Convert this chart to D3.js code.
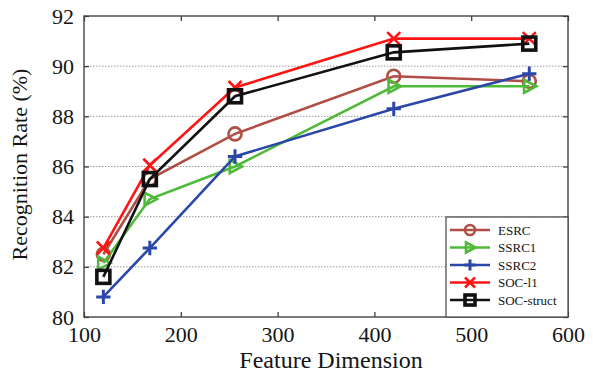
<!DOCTYPE html>
<html><head><meta charset="utf-8">
<script src="https://cdn.jsdelivr.net/npm/d3@7"></script>
<style>
html,body{margin:0;padding:0;background:#fff;}
svg{display:block;}
svg text{font-family:"Liberation Serif","Times New Roman",Times,"DejaVu Serif",serif !important;fill:#141414;}
</style></head>
<body>
<script>
const dims = [120, 168, 256, 420, 560];
const seriesNames = ["ESRC", "SSRC1", "SSRC2", "SOC-l1", "SOC-struct"];
const esrc = [82.5, 85.5, 87.3, 89.6, 89.4];
const ssrc1 = [82.15, 84.7, 86.0, 89.2, 89.2];
const ssrc2 = [80.8, 82.75, 86.4, 88.3, 89.7];
const socL1 = [82.75, 86.05, 89.15, 91.1, 91.1];
const socStruct = [81.6, 85.5, 88.8, 90.55, 90.9];
const xTicks = [100, 200, 300, 400, 500, 600];
const yTicks = [80, 82, 84, 86, 88, 90, 92];

const W = 593, H = 379;
const m = {l: 84, r: 25, t: 16, b: 62};
const svg = d3.select("body").append("svg").attr("width", W).attr("height", H);
const x = d3.scaleLinear().domain([100, 600]).range([m.l, W - m.r]);
const y = d3.scaleLinear().domain([80, 92]).range([H - m.b, m.t]);

const series = [
  {name: seriesNames[0], vals: esrc, color: "#b04e46", marker: "circle"},
  {name: seriesNames[1], vals: ssrc1, color: "#4fba3a", marker: "tri"},
  {name: seriesNames[2], vals: ssrc2, color: "#2b47a8", marker: "plus"},
  {name: seriesNames[3], vals: socL1, color: "#ff1414", marker: "x"},
  {name: seriesNames[4], vals: socStruct, color: "#111111", marker: "square"}
];

// gridlines
svg.append("g").selectAll("line").data(yTicks.slice(1, -1)).join("line")
  .attr("x1", m.l).attr("x2", W - m.r)
  .attr("y1", d => y(d)).attr("y2", d => y(d))
  .attr("stroke", "#9a9a9a").attr("stroke-width", 1).attr("stroke-dasharray", "1.5,1.5");

// axes
const fs = 22;
const gx = svg.append("g").attr("transform", `translate(0,${H - m.b})`)
  .call(d3.axisBottom(x).tickValues(xTicks).tickSize(-5).tickPadding(9));
const gy = svg.append("g").attr("transform", `translate(${m.l},0)`)
  .call(d3.axisLeft(y).tickValues(yTicks).tickSize(-5).tickPadding(10));
const gt = svg.append("g").attr("transform", `translate(0,${m.t})`)
  .call(d3.axisTop(x).tickValues(xTicks).tickSize(-5).tickFormat(""));
const gr = svg.append("g").attr("transform", `translate(${W - m.r},0)`)
  .call(d3.axisRight(y).tickValues(yTicks).tickSize(-5).tickFormat(""));
[gx, gy, gt, gr].forEach(g => {
  g.attr("font-family", null);
  g.select(".domain").remove();
  g.selectAll("line").attr("stroke", "#333").attr("stroke-width", 1.2);
  g.selectAll("text").style("font-size", fs + "px").attr("fill", "#141414");
});
svg.append("rect").attr("x", m.l).attr("y", m.t).attr("width", W - m.r - m.l).attr("height", H - m.b - m.t)
  .attr("fill", "none").attr("stroke", "#444").attr("stroke-width", 1.4);

// axis titles
svg.append("text").attr("x", (m.l + W - m.r) / 2 + 5).attr("y", 368).attr("text-anchor", "middle")
  .style("font-size", "24px").text("Feature Dimension");
svg.append("text").attr("transform", `translate(27,${(m.t + H - m.b) / 2 - 2}) rotate(-90)`).attr("text-anchor", "middle")
  .style("font-size", "22px").text("Recognition Rate (%)");

function drawMarker(g, type, cx, cy, color, s) {
  const sw = 2.6;
  if (type === "circle") {
    g.append("circle").attr("cx", cx).attr("cy", cy).attr("r", s).attr("fill", "none").attr("stroke", color).attr("stroke-width", sw);
  } else if (type === "square") {
    g.append("rect").attr("x", cx - s).attr("y", cy - s).attr("width", 2 * s).attr("height", 2 * s)
      .attr("fill", "none").attr("stroke", color).attr("stroke-width", sw + 1);
  } else if (type === "tri") {
    g.append("path").attr("d", `M${cx - s * 0.8},${cy - s} L${cx + s * 1.1},${cy} L${cx - s * 0.8},${cy + s} Z`)
      .attr("fill", "none").attr("stroke", color).attr("stroke-width", sw);
  } else if (type === "plus") {
    g.append("path").attr("d", `M${cx - s * 1.1},${cy} H${cx + s * 1.1} M${cx},${cy - s * 1.1} V${cy + s * 1.1}`)
      .attr("stroke", color).attr("stroke-width", sw + 0.4);
  } else if (type === "x") {
    g.append("path").attr("d", `M${cx - s},${cy - s} L${cx + s},${cy + s} M${cx - s},${cy + s} L${cx + s},${cy - s}`)
      .attr("stroke", color).attr("stroke-width", sw);
  }
}

const line = d3.line().x((d, i) => x(dims[i])).y(d => y(d));
series.forEach(s => {
  const g = svg.append("g");
  g.append("path").datum(s.vals).attr("d", line).attr("fill", "none").attr("stroke", s.color).attr("stroke-width", 2.6);
  s.vals.forEach((v, i) => drawMarker(g, s.marker, x(dims[i]), y(v), s.color, 6.5));
});

// legend
const lg = svg.append("g");
lg.append("rect").attr("x", 446).attr("y", 217).attr("width", W - m.r - 446).attr("height", H - m.b - 217)
  .attr("fill", "#fff").attr("stroke", "#444").attr("stroke-width", 1.2);
series.forEach((s, i) => {
  const ly = 230 + i * 17.5;
  lg.append("line").attr("x1", 450).attr("x2", 490).attr("y1", ly).attr("y2", ly).attr("stroke", s.color).attr("stroke-width", 2.6);
  drawMarker(lg, s.marker, 470, ly, s.color, 5);
  lg.append("text").attr("x", 498).attr("y", ly + 4.5).style("font-size", "13px").attr("fill", "#444").text(s.name);
});
</script>
</body></html>
